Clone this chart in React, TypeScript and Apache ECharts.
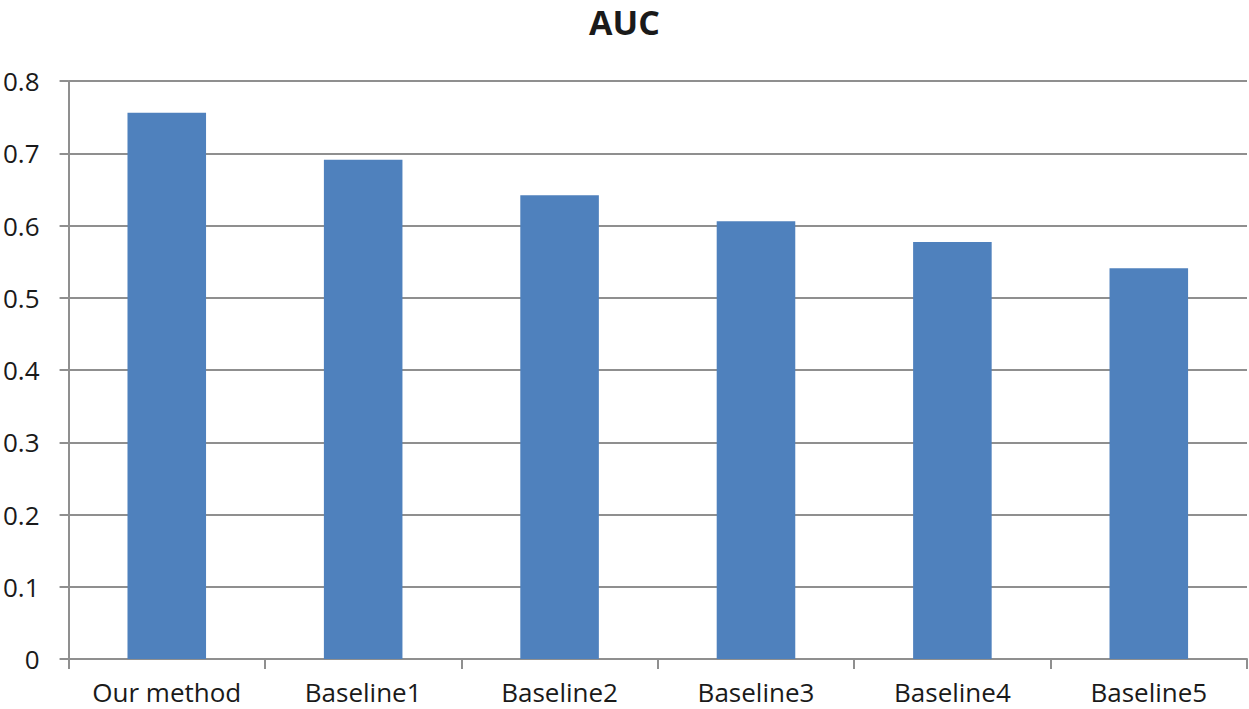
import React, { useEffect, useRef } from "react";
import * as echarts from "echarts";

const categories = ["Our method", "Baseline1", "Baseline2", "Baseline3", "Baseline4", "Baseline5"];
const aucValues = [0.756, 0.691, 0.642, 0.606, 0.577, 0.541];
const yTicks = [0, 0.1, 0.2, 0.3, 0.4, 0.5, 0.6, 0.7, 0.8];

export default function App() {
  const ref = useRef<HTMLDivElement>(null);
  useEffect(() => {
    if (!ref.current) return;
    const chart = echarts.init(ref.current, null, { renderer: "svg" });
    const gray = "#8f8f8f";
    chart.setOption({
      animation: false,
      backgroundColor: "#ffffff",
      title: {
        text: "AUC",
        left: "center",
        top: 0,
        textStyle: { fontFamily: "Open Sans", fontWeight: "bold", fontSize: 34, color: "#1a1a1a" },
      },
      grid: { left: 67, right: 2, top: 81, bottom: 50, containLabel: false },
      xAxis: {
        type: "category",
        data: categories,
        axisLine: { show: true, lineStyle: { color: gray, width: 2 } },
        axisTick: { show: true, length: 10, lineStyle: { color: gray, width: 2 } },
        axisLabel: { interval: 0, fontFamily: "Open Sans", fontSize: 26, color: "#1a1a1a", margin: 20 },
      },
      yAxis: {
        type: "value",
        min: 0,
        max: 0.8,
        interval: 0.1,
        axisLine: { show: true, lineStyle: { color: gray, width: 2 } },
        axisTick: { show: true, length: 9, lineStyle: { color: gray, width: 2 } },
        axisLabel: {
          fontFamily: "Open Sans",
          fontSize: 26,
          color: "#1a1a1a",
          margin: 29,
          formatter: (v: number) => {
            const t = yTicks.find((x) => Math.abs(x - v) < 1e-9);
            return t === 0 ? "0" : String(Math.round(v * 10) / 10);
          },
        },
        splitLine: { show: true, lineStyle: { color: gray, width: 2 } },
      },
      series: [
        {
          type: "bar",
          data: aucValues,
          barWidth: "40%",
          itemStyle: { color: "#4f81bd" },
        },
      ],
    });
    return () => chart.dispose();
  }, []);
  return (
    <div
      ref={ref}
      style={{ position: "fixed", left: 0, top: 0, width: 1249, height: 709, background: "#fff" }}
    />
  );
}
